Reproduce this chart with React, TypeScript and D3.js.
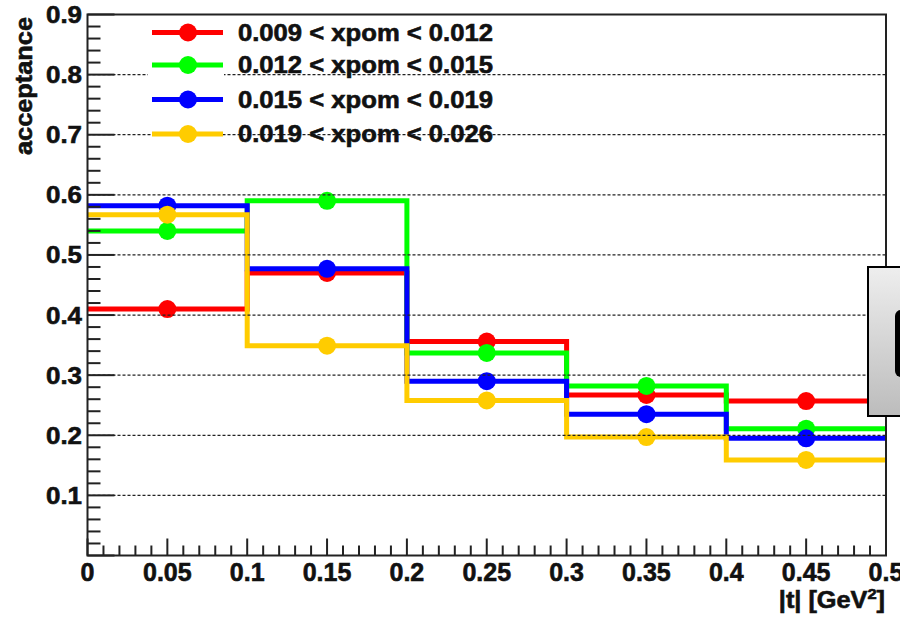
import React from "react";
import * as d3 from "d3";

// ---- data ----
const binEdges = [0, 0.1, 0.2, 0.3, 0.4, 0.5];
const seriesLabels = [
  "0.009 < xpom < 0.012",
  "0.012 < xpom < 0.015",
  "0.015 < xpom < 0.019",
  "0.019 < xpom < 0.026",
];
const seriesColors = ["#ff0000", "#00ff00", "#0000ff", "#ffcc00"];
const redValues = [0.41, 0.47, 0.356, 0.267, 0.257];
const greenValues = [0.54, 0.59, 0.337, 0.282, 0.211];
const blueValues = [0.582, 0.477, 0.29, 0.235, 0.195];
const yellowValues = [0.567, 0.349, 0.258, 0.197, 0.159];
const seriesValues = [redValues, greenValues, blueValues, yellowValues];
const yTickLabels = ["0.1", "0.2", "0.3", "0.4", "0.5", "0.6", "0.7", "0.8", "0.9"];
const xTickLabels = ["0", "0.05", "0.1", "0.15", "0.2", "0.25", "0.3", "0.35", "0.4", "0.45", "0.5"];

const W = 900;
const H = 618;
const FONT = "'Liberation Sans', Arial, Helvetica, sans-serif";

export default function App() {
  const left = 87.5, right = 886, top = 14.5, bottom = 555.5;
  const x = d3.scaleLinear().domain([0, 0.5]).range([left, right]);
  const y = d3.scaleLinear().domain([0, 0.9]).range([bottom, top]);

  const yMajor = d3.range(0, 10).map((i) => i / 10);
  const yMinor = d3.range(0, 46).map((i) => i * 0.02).filter((v) => Math.abs(v * 10 - Math.round(v * 10)) > 1e-6);
  const xMajor = d3.range(0, 11).map((i) => i * 0.05);
  const xMinor = d3.range(0, 51).map((i) => i * 0.01).filter((v) => Math.abs(v * 20 - Math.round(v * 20)) > 1e-6);

  const stepLine = d3
    .line<[number, number]>()
    .x((d) => x(d[0]))
    .y((d) => y(d[1]))
    .curve(d3.curveStepAfter);

  const legendRows = [32.5, 65, 99.5, 134];
  const textStroke = { stroke: "#111", strokeWidth: 0.6 };

  return (
    <svg
      width={W}
      height={H}
      style={{ position: "absolute", left: 0, top: 0, background: "#fff" }}
      fontFamily={FONT}
      fontWeight="bold"
    >
      <defs>
        <linearGradient id="boxGrad" x1="0" y1="0" x2="0" y2="1">
          <stop offset="0" stopColor="#eeeeee" />
          <stop offset="1" stopColor="#bcbcbc" />
        </linearGradient>
      </defs>
      <rect x={0} y={0} width={W} height={H} fill="#fff" />

      {/* histograms */}
      {seriesValues.map((vals, si) => {
        const pts: [number, number][] = vals.map((v, i) => [binEdges[i], v] as [number, number]);
        pts.push([binEdges[binEdges.length - 1], vals[vals.length - 1]]);
        return (
          <g key={si}>
            <path d={stepLine(pts) || ""} fill="none" stroke={seriesColors[si]} strokeWidth={5} />
            {vals.map((v, i) => (
              <circle
                key={i}
                cx={x((binEdges[i] + binEdges[i + 1]) / 2)}
                cy={y(v)}
                r={9}
                fill={seriesColors[si]}
              />
            ))}
          </g>
        );
      })}

      {/* grid lines */}
      {yMajor.slice(1).map((v) => (
        <line
          key={v}
          x1={left}
          x2={right}
          y1={y(v)}
          y2={y(v)}
          stroke="#222"
          strokeWidth={1.2}
          strokeDasharray="3,2"
        />
      ))}

      {/* frame */}
      <rect x={left} y={top} width={right - left} height={bottom - top} fill="none" stroke="#222" strokeWidth={2} />

      {/* y ticks */}
      {yMajor.map((v) => (
        <line key={"ym" + v} x1={left} x2={left + 27} y1={y(v)} y2={y(v)} stroke="#222" strokeWidth={2} />
      ))}
      {yMinor.map((v) => (
        <line key={"yn" + v} x1={left} x2={left + 13} y1={y(v)} y2={y(v)} stroke="#222" strokeWidth={2} />
      ))}
      {/* x ticks */}
      {xMajor.map((v) => (
        <line key={"xm" + v} x1={x(v)} x2={x(v)} y1={bottom} y2={bottom - 17} stroke="#222" strokeWidth={2} />
      ))}
      {xMinor.map((v) => (
        <line key={"xn" + v} x1={x(v)} x2={x(v)} y1={bottom} y2={bottom - 10} stroke="#222" strokeWidth={2} />
      ))}

      {/* y tick labels */}
      {yTickLabels.map((t) => (
        <text
          key={"yl" + t}
          transform={`translate(${82},${y(+t) + 8.5}) scale(1.08,1)`}
          textAnchor="end"
          fontSize={24}
          fill="#111"
          {...textStroke}
        >
          {t}
        </text>
      ))}
      {/* x tick labels */}
      {xTickLabels.map((t) => (
        <text key={"xl" + t} x={x(+t)} y={580.5} textAnchor="middle" fontSize={25} fill="#111" {...textStroke}>
          {t}
        </text>
      ))}

      {/* axis titles */}
      <text
        transform={`translate(32,17) rotate(-90)`}
        textAnchor="end"
        fontSize={23}
        textLength={138}
        lengthAdjust="spacingAndGlyphs"
        fill="#111"
        {...textStroke}
      >
        acceptance
      </text>
      <text transform={`translate(885,608) scale(1.1,1)`} textAnchor="end" fontSize={23} fill="#111" {...textStroke}>
        |t| [GeV
        <tspan fontSize={15} dy={-9}>
          2
        </tspan>
        <tspan dy={9}>]</tspan>
      </text>

      {/* legend */}
      <rect x={148} y={44} width={76} height={50} fill="#fff" />
      {seriesLabels.map((lab, i) => (
        <g key={lab}>
          <line x1={152} x2={223} y1={legendRows[i]} y2={legendRows[i]} stroke={seriesColors[i]} strokeWidth={5} />
          <circle cx={188} cy={legendRows[i]} r={9} fill={seriesColors[i]} />
          <text
            x={238}
            y={legendRows[i] + 8}
            fontSize={23}
            textLength={255}
            lengthAdjust="spacingAndGlyphs"
            fill="#111"
            {...textStroke}
          >
            {lab}
          </text>
        </g>
      ))}

      {/* partially visible gray box at the right */}
      <rect x={868} y={267} width={60} height={149} fill="url(#boxGrad)" stroke="#000" strokeWidth={2} />
      <rect x={895} y={310} width={30} height={67} rx={6} fill="#000" />
    </svg>
  );
}
